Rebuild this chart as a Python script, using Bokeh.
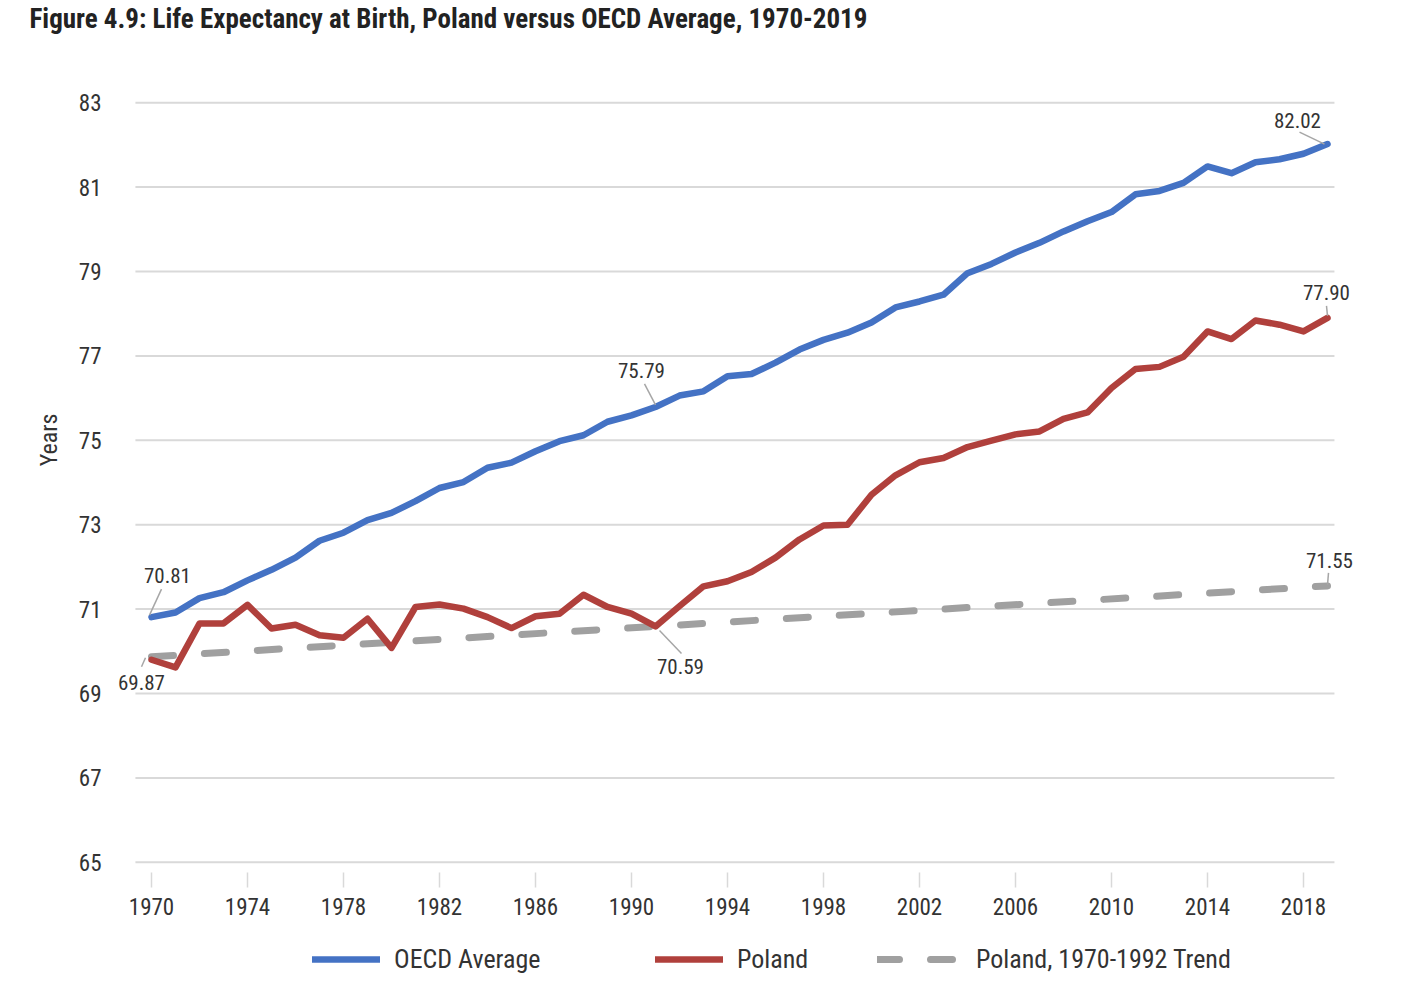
from bokeh.plotting import figure
from bokeh.layouts import column
from bokeh.models import (Range1d, FixedTicker, Legend, LegendItem, LabelSet,
                          ColumnDataSource, Title)
from bokeh.core.properties import value
from bokeh.embed import file_html
from bokeh.resources import INLINE

# ---- data ----
years = list(range(1970, 2020))
oecd = [70.81, 70.92, 71.26, 71.40, 71.68, 71.93, 72.22, 72.62, 72.81, 73.11,
        73.28, 73.56, 73.87, 74.01, 74.35, 74.47, 74.74, 74.98, 75.12, 75.44,
        75.59, 75.79, 76.06, 76.16, 76.52, 76.57, 76.84, 77.15, 77.38, 77.55,
        77.79, 78.15, 78.29, 78.45, 78.96, 79.18, 79.45, 79.68, 79.95, 80.19,
        80.41, 80.83, 80.91, 81.10, 81.49, 81.33, 81.59, 81.66, 81.79, 82.02]
poland = [69.80, 69.62, 70.66, 70.66, 71.10, 70.54, 70.63, 70.38, 70.32, 70.77,
          70.08, 71.05, 71.11, 71.01, 70.81, 70.55, 70.83, 70.89, 71.34, 71.05,
          70.89, 70.59, 71.07, 71.54, 71.66, 71.88, 72.22, 72.65, 72.98, 73.00,
          73.71, 74.17, 74.48, 74.58, 74.84, 74.99, 75.14, 75.21, 75.51, 75.66,
          76.24, 76.69, 76.74, 76.98, 77.58, 77.40, 77.84, 77.74, 77.58, 77.90]
trend_years = [1970, 2019]
trend = [69.87, 71.55]
x_ticks = list(range(1970, 2019, 4))
y_ticks = list(range(65, 84, 2))
series_names = ["OECD Average", "Poland", "Poland, 1970-1992 Trend"]
title_text = "Figure 4.9: Life Expectancy at Birth, Poland versus OECD Average, 1970-2019"
y_title = "Years"

FONT = "Roboto Condensed"
TXT = "#333333"
GRID = "#D9D9D9"
BLUE, RED, GREY = "#4472C4", "#B0403C", "#A0A0A0"

W, H0, H1, H2 = 1400, 60, 875, 55
MB_L, MB_R, MB_T, MB_B = 111, 3, 38, 69
x0, x1 = 1968.3333, 2021.9167
y0, y1 = 64.9, 83.1
grid_x = (1969.33, 2019.29)   # extent of the horizontal grid lines


def strip(height):
    f = figure(width=W, height=height, output_backend="svg", toolbar_location=None,
               x_range=Range1d(0, 1), y_range=Range1d(0, 1),
               x_axis_type=None, y_axis_type=None, min_border=0)
    f.outline_line_color = None
    f.xgrid.grid_line_color = None
    f.ygrid.grid_line_color = None
    return f


# ---- title strip ----
t = strip(H0)
t.title.text = title_text
t.title.text_font = FONT
t.title.text_font_size = "27px"
t.title.text_font_style = "bold"
t.title.text_color = "#222222"
t.title.align = "left"
t.title.offset = -82
t.title.vertical_align = "top"
t.title.standoff = 5

# ---- main chart ----
p = figure(width=W, height=H1, output_backend="svg", toolbar_location=None,
           x_range=Range1d(x0, x1), y_range=Range1d(y0, y1),
           min_border_left=MB_L, min_border_right=MB_R,
           min_border_top=MB_T, min_border_bottom=MB_B)
p.outline_line_color = None
p.background_fill_color = "white"
p.border_fill_color = "white"

p.xaxis.ticker = FixedTicker(ticks=x_ticks)
p.xaxis.axis_line_color = None
p.xaxis.major_tick_line_color = GRID
p.xaxis.major_tick_line_width = 1.5
p.xaxis.major_tick_out = 21
p.xaxis.major_tick_in = -6
p.xaxis.minor_tick_line_color = None
p.xaxis.major_label_standoff = 10
p.xaxis.major_label_text_font = FONT
p.xaxis.major_label_text_font_size = "23px"
p.xaxis.major_label_text_color = TXT

p.yaxis.ticker = FixedTicker(ticks=y_ticks)
p.yaxis.axis_line_color = None
p.yaxis.major_tick_line_color = None
p.yaxis.minor_tick_line_color = None
p.yaxis.major_label_standoff = 4
p.yaxis.major_label_text_font = FONT
p.yaxis.major_label_text_font_size = "23px"
p.yaxis.major_label_text_color = TXT

yt = Title(text=y_title, align="right", offset=315, standoff=25,
           text_font=FONT, text_font_size="24px", text_font_style="normal",
           text_color=TXT)
p.add_layout(yt, "left")

p.xgrid.grid_line_color = None
p.ygrid.grid_line_color = None

# horizontal grid lines at the y ticks, limited to the plotting area
p.segment(x0=[grid_x[0]] * len(y_ticks), y0=y_ticks,
          x1=[grid_x[1]] * len(y_ticks), y1=y_ticks,
          line_color=GRID, line_width=2)

line_specs = dict(
    trend=dict(line_color=GREY, line_width=7, line_dash="22 31", line_cap="round"),
    poland=dict(line_color=RED, line_width=6.5, line_join="round", line_cap="round"),
    oecd=dict(line_color=BLUE, line_width=6.5, line_join="round", line_cap="round"),
)
p.line(trend_years, trend, **line_specs["trend"])
p.line(years, poland, **line_specs["poland"])
p.line(years, oecd, **line_specs["oecd"])

# annotations: data point, label pixel offset, leader pixel offsets
fw = W - MB_L - MB_R
fh = H1 - MB_T - MB_B
pxx = fw / (x1 - x0)
pxy = fh / (y1 - y0)

ann_pts = [(years[0], oecd[0]), (trend_years[0], trend[0]),
           (years[21], oecd[21]), (years[21], poland[21]),
           (years[-1], oecd[-1]), (years[-1], poland[-1]),
           (trend_years[-1], trend[-1])]
lab_off = [(16, 42), (-10, -26), (-14, 36), (25, -40), (-30, 24), (-1, 25), (2, 25)]
lead_off = [((10, -28), (-2, -2)), ((-6, 1), (-10, 10)), ((-11, -23), (0, -2)),
            ((4, 4), (26, 27)), ((-28, -12), (-3, 0)), ((-1, -12), (0, -2)),
            ((1, -13), (0, -1))]

p.segment(x0=[pt[0] + lo[0][0] / pxx for pt, lo in zip(ann_pts, lead_off)],
          y0=[pt[1] - lo[0][1] / pxy for pt, lo in zip(ann_pts, lead_off)],
          x1=[pt[0] + lo[1][0] / pxx for pt, lo in zip(ann_pts, lead_off)],
          y1=[pt[1] - lo[1][1] / pxy for pt, lo in zip(ann_pts, lead_off)],
          line_color="#A6A6A6", line_width=1.5)

lab_src = ColumnDataSource(dict(
    x=[pt[0] for pt in ann_pts], y=[pt[1] for pt in ann_pts],
    t=["%.2f" % pt[1] for pt in ann_pts],
    dx=[o[0] for o in lab_off], dy=[o[1] for o in lab_off]))
labels = LabelSet(x="x", y="y", text="t", source=lab_src,
                  x_offset="dx", y_offset="dy",
                  text_align="center", text_baseline="middle",
                  text_font=value(FONT), text_font_size=value("21px"),
                  text_color=value(TXT))
p.add_layout(labels)

# ---- legend strip below the chart ----
q = strip(H2)
rq_oecd = q.line(years, oecd, **line_specs["oecd"])
rq_pol = q.line(years, poland, **line_specs["poland"])
rq_trend = q.line(trend_years, trend, **line_specs["trend"])

leg_x = [201, 544, 766]
leg_w = [68, 68, 85]
for name, r, lx, gw in zip(series_names, [rq_oecd, rq_pol, rq_trend], leg_x, leg_w):
    lg = Legend(items=[LegendItem(label=name, renderers=[r])],
                location=(lx, 16), orientation="horizontal",
                glyph_width=gw, glyph_height=24, label_standoff=14,
                label_text_font=FONT, label_text_font_size="26px",
                label_text_color=TXT, border_line_color=None,
                background_fill_alpha=0, margin=0, padding=6)
    q.add_layout(lg, "center")

open("out.html", "w").write(file_html(column(t, p, q), INLINE))
